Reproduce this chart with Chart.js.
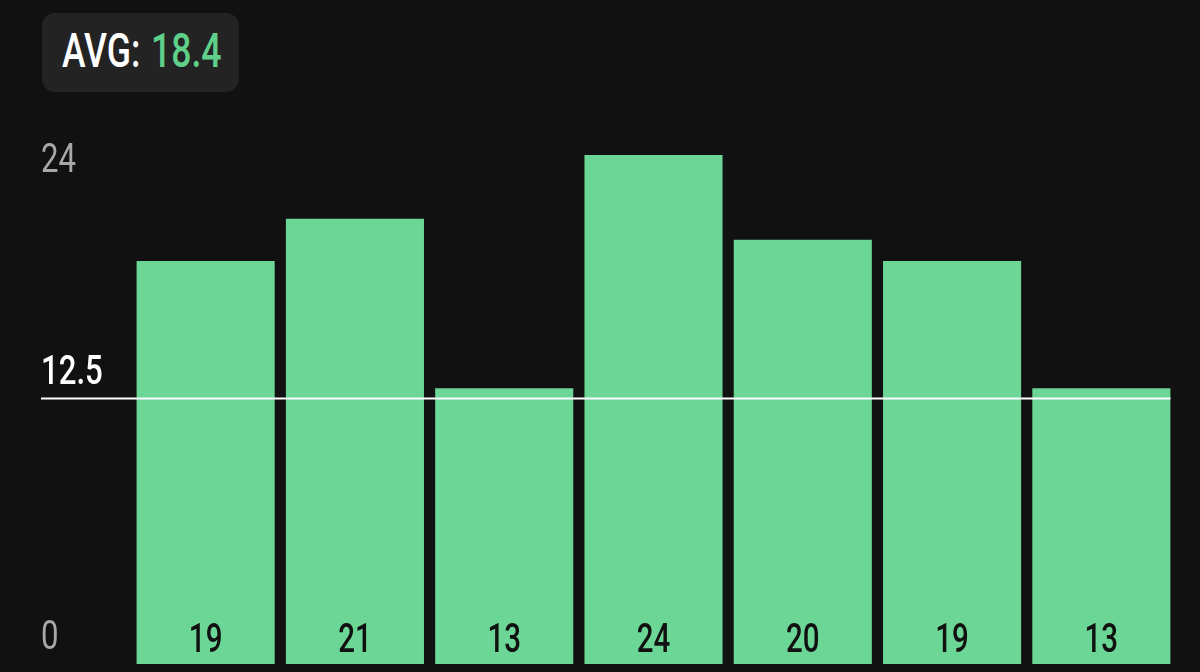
<!DOCTYPE html>
<html>
<head>
<meta charset="utf-8">
<script src="https://cdn.jsdelivr.net/npm/chart.js@4.4.1/dist/chart.umd.min.js"></script>
<style>
  html, body { margin: 0; padding: 0; background: #111111; width: 1200px; height: 672px; overflow: hidden; }
  #wrap { position: relative; width: 1200px; height: 672px; }
  canvas { position: absolute; left: 0; top: 0; }
  #avg {
    position: absolute; left: 42px; top: 13px; width: 197px; height: 79px;
    background: #232323; border-radius: 13px;
    font-family: "Roboto", sans-serif; font-weight: 500; font-size: 48px; color: #ffffff;
  }
  #avg span { position: absolute; top: 14px; line-height: 48px; transform: scaleX(0.74); transform-origin: left center; white-space: nowrap; }
  #avgl { left: 20px; }
  #avgv { left: 109px; color: #5fd08a; }
</style>
</head>
<body>
<div id="wrap">
  <canvas id="c" width="1200" height="672"></canvas>
  <div id="avg"><span id="avgl">AVG:</span><span id="avgv"></span></div>
</div>
<script>
const categories = ["1", "2", "3", "4", "5", "6", "7"];
const values = [19, 21, 13, 24, 20, 19, 13];
const yTickValues = [0, 12.5, 24];
const yTickLabels = ["0", "12.5", "24"];
const targetValue = 12.5;

const FONT = '"Roboto", sans-serif';

const avg = values.reduce((a, b) => a + b, 0) / values.length;
document.getElementById('avgv').textContent = avg.toFixed(1);

function narrowText(ctx, text, x, y, align, sx) {
  ctx.save();
  ctx.translate(x, y);
  ctx.scale(sx, 1);
  ctx.textAlign = align;
  ctx.fillText(text, 0, 0);
  ctx.restore();
}

const overlay = {
  id: 'overlay',
  afterDatasetsDraw(chart) {
    const ctx = chart.ctx;
    const y = chart.scales.y;
    const area = chart.chartArea;
    const meta = chart.getDatasetMeta(0);
    ctx.save();
    ctx.font = '500 41px ' + FONT;
    ctx.textBaseline = 'alphabetic';
    // value labels at bottom of bars
    ctx.fillStyle = '#111111';
    meta.data.forEach((bar, i) => {
      narrowText(ctx, String(values[i]), bar.x, y.getPixelForValue(0) - 12, 'center', 0.72);
    });
    // target line
    const last = meta.data[meta.data.length - 1];
    const ly = Math.round(y.getPixelForValue(targetValue)) - 0.5;
    ctx.strokeStyle = '#ffffff';
    ctx.lineWidth = 2;
    ctx.beginPath();
    ctx.moveTo(41, ly);
    ctx.lineTo(last.x + last.width / 2, ly);
    ctx.stroke();
    // y tick labels
    yTickValues.forEach((v, i) => {
      const p = y.getPixelForValue(v);
      const base = Math.max(p - 15, area.top + 17);
      ctx.fillStyle = v === targetValue ? '#ffffff' : '#a8a8a8';
      ctx.font = (v === targetValue ? '500 ' : '400 ') + '41px ' + FONT;
      narrowText(ctx, yTickLabels[i], 41, base, 'left', 0.76);
    });
    ctx.restore();
  }
};

new Chart(document.getElementById('c'), {
  type: 'bar',
  data: {
    labels: categories,
    datasets: [{
      data: values,
      backgroundColor: '#6bd695',
      borderWidth: 0,
      barPercentage: 0.925,
      categoryPercentage: 1.0
    }]
  },
  options: {
    responsive: false,
    animation: false,
    events: [],
    layout: { padding: { left: 131, right: 24, top: 155, bottom: 8 } },
    plugins: { legend: { display: false }, tooltip: { enabled: false } },
    scales: {
      x: { display: false },
      y: { display: false, min: 0, max: 24 }
    }
  },
  plugins: [overlay]
});
</script>
</body>
</html>
